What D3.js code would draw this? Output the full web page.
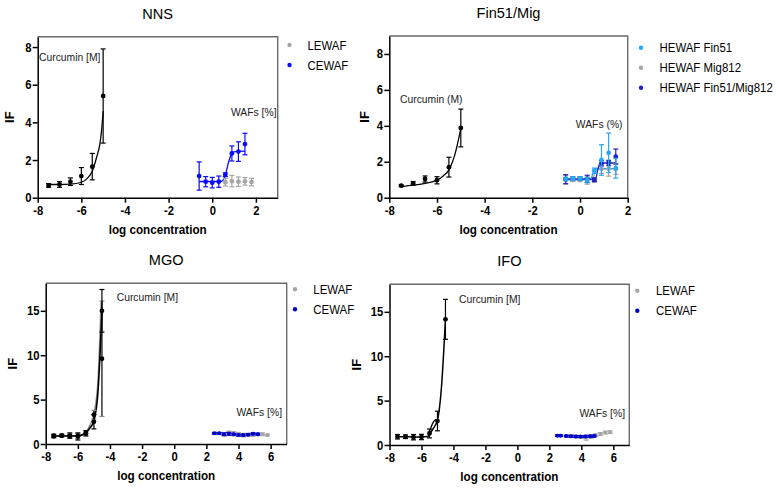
<!DOCTYPE html>
<html><head><meta charset="utf-8">
<script src="https://cdn.jsdelivr.net/npm/d3@7"></script>
<style>
body{margin:0;background:#fff;}
svg{display:block;font-family:"Liberation Sans",Arial,sans-serif;}
</style></head>
<body><svg id="c" width="779" height="491"></svg>
<script>
// ---------- DATA ----------
// NNS
const nnsCurX = [-7.5, -7, -6.5, -6, -5.5, -5];
const nnsCurY = [0.65, 0.7, 0.85, 1.15, 1.65, 5.4];
const nnsCurErr = [0.1, 0.15, 0.2, 0.45, 0.7, 2.5];
const nnsCurFitX = [-7.5, -7, -6.5, -6, -5.75, -5.5, -5.3, -5.15, -5.07, -5.0];
const nnsCurFitY = [0.7, 0.7, 0.72, 0.82, 1.0, 1.4, 2.15, 2.85, 3.6, 4.6];
const nnsWafX = [-0.6, -0.3, 0, 0.3, 0.6, 0.9, 1.2, 1.5];
const nnsCewafY = [1.15, 0.85, 0.8, 0.85, 1.22, 2.35, 2.45, 2.85];
const nnsCewafErr = [0.75, 0.27, 0.28, 0.3, 0.1, 0.4, 0.52, 0.57];
const nnsCewafFitX = [-0.6, 0.4, 0.6, 0.75, 0.9, 1.05, 1.5];
const nnsCewafFitY = [0.86, 0.86, 1.2, 1.9, 2.35, 2.45, 2.47];
const nnsLewafX = [0.6, 0.9, 1.2, 1.5, 1.8];
const nnsLewafY = [0.82, 0.88, 0.85, 0.87, 0.83];
const nnsLewafErr = [0.2, 0.3, 0.25, 0.2, 0.2];

// Fin51/Mig
const finCurX = [-7.5, -7, -6.5, -6, -5.5, -5];
const finCurY = [0.67, 0.8, 1.04, 0.97, 1.7, 3.88];
const finCurErr = [0.05, 0.1, 0.17, 0.2, 0.55, 1.05];
const finCurFitX = [-7.5, -7, -6.5, -6, -5.75, -5.5, -5.25, -5];
const finCurFitY = [0.62, 0.7, 0.8, 0.98, 1.2, 1.55, 2.4, 3.85];
const finWafX = [-0.6, -0.3, 0, 0.3, 0.6, 0.9, 1.2, 1.5];
const finFin51Y = [1.04, 1.06, 1.06, 0.98, 1.5, 2.1, 2.5, 1.64];
const finFin51Err = [0.1, 0.1, 0.1, 0.15, 0.15, 0.85, 1.1, 0.55];
const finFin51FitX = [-0.6, 0.45, 0.55, 0.65, 1.5];
const finFin51FitY = [1.04, 1.04, 1.4, 1.62, 1.62];
const finMigY = [1.0, 1.0, 1.0, 0.95, 0.95, 1.6, 1.6, 1.6];
const finMigErr = [0.25, 0.1, 0.1, 0.2, 0.1, 0.25, 0.4, 0.3];
const finMigFitX = [-0.6, 0.5, 0.6, 0.7, 1.5];
const finMigFitY = [1.0, 1.0, 1.3, 1.6, 1.6];
const finMixY = [1.03, 1.06, 1.06, 1.05, 1.0, 1.92, 1.93, 2.29];
const finMixErr = [0.25, 0.1, 0.1, 0.2, 0.1, 0.15, 0.15, 0.42];
const finMixFitX = [-0.6, 0.65, 0.75, 0.85, 1.5];
const finMixFitY = [1.03, 1.03, 1.6, 1.93, 1.93];

// MGO
const mgoCurX = [-7.5, -7, -6.5, -6, -5.5, -5, -4.5];
const mgoCurAY = [0.9, 0.95, 0.95, 0.85, 1.2, 2.5, 15];
const mgoCurAErr = [0.2, 0.15, 0.3, 0.4, 0.3, 0.8, 2.4];
const mgoCurBY = [0.9, 0.95, 0.9, 0.9, 1.25, 3.3, 9.6];
const mgoCurBErr = [0.15, 0.1, 0.2, 0.3, 0.25, 0.5, 6.5];
const mgoCurAFitX = [-7.5, -7, -6.5, -6, -5.75, -5.5, -5.25, -5, -4.75, -4.5];
const mgoCurAFitY = [0.9, 0.9, 0.9, 0.92, 1.0, 1.25, 1.8, 2.6, 5.8, 15];
const mgoCurBFitX = [-7.5, -7, -6.5, -6, -5.75, -5.5, -5.25, -5, -4.75, -4.55];
const mgoCurBFitY = [0.9, 0.9, 0.9, 0.95, 1.05, 1.35, 2.1, 3.4, 7.0, 16];
const mgoCewafX = [2.5, 2.8, 3.1, 3.4, 3.7, 4.0, 4.3, 4.6, 4.9, 5.2];
const mgoCewafY = [1.2, 1.2, 1.1, 1.15, 1.1, 1.0, 1.0, 1.05, 1.15, 1.1];
const mgoCewafErr = [0.1, 0.1, 0.15, 0.15, 0.1, 0.1, 0.1, 0.1, 0.1, 0.1];
const mgoLewafX = [3.1, 3.4, 3.7, 4.0, 4.3, 4.6, 4.9, 5.2, 5.5, 5.8];
const mgoLewafY = [1.1, 1.2, 1.15, 1.1, 1.0, 1.05, 1.0, 1.1, 1.1, 1.0];
const mgoLewafErr = [0.2, 0.25, 0.25, 0.2, 0.2, 0.15, 0.15, 0.15, 0.15, 0.1];

// IFO
const ifoCurX = [-7.5, -7, -6.5, -6, -5.5, -5, -4.5];
const ifoCurY = [0.93, 0.93, 0.88, 0.9, 1.3, 2.7, 14.15];
const ifoCurErr = [0.25, 0.2, 0.3, 0.3, 0.5, 1.1, 2.25];
const ifoCurFitX = [-7.5, -7, -6.5, -6, -5.6, -5.5, -5.25, -5, -4.75, -4.5];
const ifoCurFitY = [0.95, 0.93, 0.9, 0.9, 0.95, 1.2, 1.9, 2.8, 6.5, 14.2];
const ifoCurFit2X = [-5.55, -5.4, -5.25, -5.1, -5.0];
const ifoCurFit2Y = [1.2, 2.0, 2.6, 2.85, 2.7];
const ifoCewafX = [2.5, 2.7, 3.05, 3.35, 3.65, 3.95, 4.25, 4.55, 4.8];
const ifoCewafY = [1.05, 1.05, 1.0, 0.98, 0.95, 0.95, 0.95, 0.98, 1.0];
const ifoCewafErr = [0.08, 0.08, 0.08, 0.1, 0.1, 0.1, 0.1, 0.1, 0.1];
const ifoLewafX = [3.1, 3.4, 3.7, 4.0, 4.3, 4.6, 4.9, 5.2, 5.5, 5.8];
const ifoLewafY = [1.0, 1.0, 0.95, 0.9, 0.85, 0.95, 1.1, 1.25, 1.4, 1.45];
const ifoLewafErr = [0.15, 0.15, 0.15, 0.15, 0.3, 0.2, 0.15, 0.15, 0.15, 0.15];

// Tick labels
const xTicksTop = [-8, -6, -4, -2, 0, 2];
const xTicksBottom = [-8, -6, -4, -2, 0, 2, 4, 6];
const yTicksNNS = [0, 2, 4, 6, 8];
const yTicksFin = [0, 2, 4, 6, 8];
const yTicksBottom = [0, 5, 10, 15];

// ---------- DRAWING ----------
const BLACK = "#000000", GREY = "#a6a6a6", BLUE = "#0a0aff", DBLUE = "#1f1fc4", LBLUE = "#2aa6f0", DKBLUE2 = "#0000c8";
const svg = d3.select("#c");

function zip(xs, ys, es) { return xs.map((x, i) => ({x, y: ys[i], e: es ? es[i] : 0})); }

// text with a slight horizontal condensation, like the reference rendering
function txt(g, x, y, t, size, sx, opts = {}) {
  return g.append("text")
    .attr("transform", `translate(${x},${y}) scale(${sx},1)${opts.rot ? " rotate(" + opts.rot + ")" : ""}`)
    .attr("text-anchor", opts.anchor || "start")
    .style("font-size", size + "px").style("font-weight", opts.bold ? "bold" : "normal")
    .attr("fill", opts.fill || "#000").text(t);
}

function drawPanel(cfg) {
  const g = svg.append("g");
  const x = d3.scaleLinear().domain(cfg.xDomain).range([cfg.left, cfg.right]);
  const y = d3.scaleLinear().domain(cfg.yDomain).range([cfg.bottom, cfg.top]);

  // top/right frame
  g.append("path").attr("d", `M${cfg.left},${cfg.top}H${cfg.right}V${cfg.bottom}`)
    .attr("fill", "none").attr("stroke", "#6b6b6b").attr("stroke-width", 1.4);

  const line = d3.line().x(d => x(d.x)).y(d => y(d.y)).curve(d3.curveMonotoneX);
  cfg.fits.forEach(f => {
    g.append("path").datum(zip(f.x, f.y)).attr("d", line)
      .attr("fill", "none").attr("stroke", f.color).attr("stroke-width", f.w || 1.3);
  });
  cfg.series.forEach(s => {
    const data = zip(s.x, s.y, s.err);
    const eb = g.append("g").attr("stroke", s.capColor || s.color).attr("stroke-width", 1.2).attr("fill", "none");
    data.forEach(d => {
      if (!d.e) return;
      const cx = x(d.x), y1 = y(d.y + d.e), y2 = y(Math.max(0, d.y - d.e));
      eb.append("line").attr("x1", cx).attr("x2", cx).attr("y1", y1).attr("y2", y2).attr("stroke", s.color);
      eb.append("line").attr("x1", cx - 2.5).attr("x2", cx + 2.5).attr("y1", y1).attr("y2", y1);
      eb.append("line").attr("x1", cx - 2.5).attr("x2", cx + 2.5).attr("y1", y2).attr("y2", y2);
    });
    g.append("g").selectAll("circle").data(data).join("circle")
      .attr("cx", d => x(d.x)).attr("cy", d => y(d.y)).attr("r", s.r || 2.4).attr("fill", s.color);
  });

  // axes
  const ax = g.append("g").attr("transform", `translate(0,${cfg.bottom})`)
    .call(d3.axisBottom(x).tickValues(cfg.xTicks).tickSize(5).tickSizeOuter(0).tickPadding(3));
  const ay = g.append("g").attr("transform", `translate(${cfg.left},0)`)
    .call(d3.axisLeft(y).tickValues(cfg.yTicks).tickSize(5).tickSizeOuter(0).tickPadding(2));
  [ax, ay].forEach(a => {
    a.select(".domain").attr("stroke", "#000").attr("stroke-width", 1.5);
    a.selectAll(".tick line").attr("stroke", "#000").attr("stroke-width", 1.5);
    a.selectAll(".tick text").attr("fill", "#000").style("font-size", "12.5px").style("font-weight", "bold")
      .style("font-family", "Liberation Sans, Arial, sans-serif")
      .attr("transform", "scale(0.9,1)")
      .text(d => d < 0 ? "-" + Math.abs(d) : d);
  });

  // titles
  const cxMid = (cfg.left + cfg.right) / 2;
  txt(g, cxMid, cfg.top - 18, cfg.title, 15.5, 0.94, {anchor: "middle"});
  txt(g, cxMid, cfg.bottom + 36, "log concentration", 13, 0.9, {anchor: "middle", bold: true});
  txt(g, cfg.ifX, (cfg.top + cfg.bottom) / 2, "IF", 13, 1, {anchor: "middle", bold: true, rot: -90});

  cfg.notes.forEach(n => txt(g, n.x, n.y, n.t, 11, 0.94, {anchor: n.anchor || "start", fill: "#222"}));

  cfg.legend.forEach((l, i) => {
    const ly = cfg.legY + i * cfg.legStep;
    g.append("circle").attr("cx", cfg.legX).attr("cy", ly).attr("r", 2.2).attr("fill", l.color);
    txt(g, cfg.legX + cfg.legGap, ly + 4.6, l.t, 13, 0.88);
  });
}

drawPanel({
  title: "NNS", left: 37.7, right: 277.7, top: 36.7, bottom: 197.7,
  xDomain: [-8, 3], yDomain: [0, 8.55], xTicks: xTicksTop, yTicks: yTicksNNS, ifX: 14,
  fits: [{x: nnsCurFitX, y: nnsCurFitY, color: BLACK}, {x: nnsCewafFitX, y: nnsCewafFitY, color: BLUE}],
  series: [
    {x: nnsLewafX, y: nnsLewafY, err: nnsLewafErr, color: GREY},
    {x: nnsCurX, y: nnsCurY, err: nnsCurErr, color: BLACK},
    {x: nnsWafX, y: nnsCewafY, err: nnsCewafErr, color: BLUE}],
  notes: [{x: 39, y: 60.5, t: "Curcumin [M]"}, {x: 276.5, y: 116, t: "WAFs [%]", anchor: "end"}],
  legend: [{t: "LEWAF", color: GREY}, {t: "CEWAF", color: BLUE}],
  legX: 289.5, legY: 45, legStep: 20, legGap: 18
});

drawPanel({
  title: "Fin51/Mig", left: 389.3, right: 627.7, top: 36, bottom: 197.7,
  xDomain: [-8, 2], yDomain: [0, 9], xTicks: xTicksTop, yTicks: yTicksFin, ifX: 369,
  fits: [{x: finCurFitX, y: finCurFitY, color: BLACK}, {x: finMigFitX, y: finMigFitY, color: GREY},
         {x: finFin51FitX, y: finFin51FitY, color: LBLUE}, {x: finMixFitX, y: finMixFitY, color: DBLUE}],
  series: [
    {x: finCurX, y: finCurY, err: finCurErr, color: BLACK},
    {x: finWafX, y: finMigY, err: finMigErr, color: GREY},
    {x: finWafX, y: finMixY, err: finMixErr, color: DBLUE},
    {x: finWafX, y: finFin51Y, err: finFin51Err, color: LBLUE}],
  notes: [{x: 400, y: 102.5, t: "Curcumin (M)"}, {x: 622.5, y: 128, t: "WAFs (%)", anchor: "end"}],
  legend: [{t: "HEWAF Fin51", color: LBLUE}, {t: "HEWAF Mig812", color: GREY}, {t: "HEWAF Fin51/Mig812", color: DBLUE}],
  legX: 641, legY: 47.7, legStep: 20, legGap: 18.5
});

drawPanel({
  title: "MGO", left: 45.7, right: 286.7, top: 283.3, bottom: 444,
  xDomain: [-8, 7], yDomain: [0, 18.1], xTicks: xTicksBottom, yTicks: yTicksBottom, ifX: 17,
  fits: [{x: mgoCurBFitX, y: mgoCurBFitY, color: "#8a8a8a", w: 1.4}, {x: mgoCurAFitX, y: mgoCurAFitY, color: BLACK, w: 1.6}],
  series: [
    {x: mgoLewafX, y: mgoLewafY, err: mgoLewafErr, color: GREY, r: 2},
    {x: mgoCewafX, y: mgoCewafY, err: mgoCewafErr, color: DKBLUE2, r: 2},
    {x: mgoCurX, y: mgoCurBY, err: mgoCurBErr, color: BLACK, capColor: "#888"},
    {x: mgoCurX, y: mgoCurAY, err: mgoCurAErr, color: BLACK}],
  notes: [{x: 116.7, y: 301.3, t: "Curcumin [M]"}, {x: 282, y: 416, t: "WAFs [%]", anchor: "end"}],
  legend: [{t: "LEWAF", color: GREY}, {t: "CEWAF", color: DKBLUE2}],
  legX: 295, legY: 289.3, legStep: 20, legGap: 18.3
});

drawPanel({
  title: "IFO", left: 389.5, right: 629.3, top: 284.3, bottom: 445,
  xDomain: [-8, 7], yDomain: [0, 18.1], xTicks: xTicksBottom, yTicks: yTicksBottom, ifX: 361,
  fits: [{x: ifoCurFitX, y: ifoCurFitY, color: BLACK, w: 1.5}, {x: ifoCurFit2X, y: ifoCurFit2Y, color: BLACK, w: 1.3}],
  series: [
    {x: ifoLewafX, y: ifoLewafY, err: ifoLewafErr, color: GREY, r: 2},
    {x: ifoCewafX, y: ifoCewafY, err: ifoCewafErr, color: DKBLUE2, r: 2},
    {x: ifoCurX, y: ifoCurY, err: ifoCurErr, color: BLACK}],
  notes: [{x: 459, y: 303, t: "Curcumin [M]"}, {x: 625, y: 417.3, t: "WAFs [%]", anchor: "end"}],
  legend: [{t: "LEWAF", color: GREY}, {t: "CEWAF", color: DKBLUE2}],
  legX: 637.3, legY: 290.7, legStep: 20, legGap: 18.7
});
</script></body></html>
